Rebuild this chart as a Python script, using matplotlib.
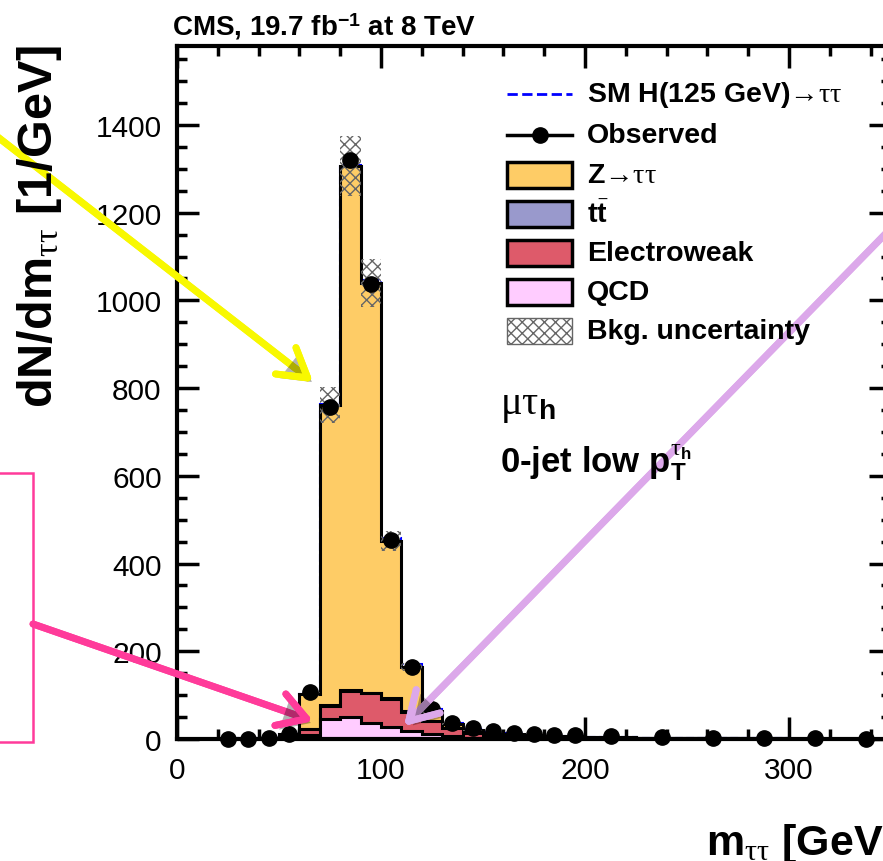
import numpy as np
import matplotlib
matplotlib.use("Agg")
import matplotlib.pyplot as plt
import matplotlib.patheffects as pe
from matplotlib.patches import Rectangle
from matplotlib.lines import Line2D
from matplotlib.ticker import MultipleLocator

plt.rcParams['font.family'] = ['Liberation Sans', 'DejaVu Sans']
plt.rcParams['mathtext.fontset'] = 'custom'
plt.rcParams['mathtext.rm'] = 'Liberation Serif'
plt.rcParams['mathtext.it'] = 'Liberation Serif:italic'
plt.rcParams['mathtext.bf'] = 'Liberation Sans:bold'
plt.rcParams['mathtext.sf'] = 'Liberation Sans'
plt.rcParams['hatch.linewidth'] = 1.0

# bin edges m_tautau [GeV]
edges = [0, 10, 20, 30, 40, 50, 60, 70, 80, 90, 100, 110, 120, 130, 140, 150,
         160, 170, 180, 190, 200, 225, 250, 275, 300, 325, 350]

# dN/dm per bin
qcd = [0, 0, 0, 0.5, 1, 2, 8, 46, 50, 36, 27, 19, 11, 6, 3, 2, 1.5, 1, 1, 0.8,
       0.5, 0.3, 0.2, 0.1, 0.1, 0.05]
ewk = [0, 0, 0.3, 0.5, 1, 3, 14, 30, 60, 68, 65, 43, 29, 18, 11, 8, 6.5, 5, 4, 3.2,
       2.5, 1.7, 1.3, 0.9, 0.6, 0.45]
ttbar = [0, 0, 0, 0, 0, 0.1, 0.3, 0.5, 0.8, 1, 1.2, 1.3, 1.4, 1.4, 1.3, 1.2, 1.1, 1,
         0.9, 0.8, 0.7, 0.5, 0.4, 0.3, 0.2, 0.15]
ztt = [0, 0, 0.2, 0.5, 1, 6, 80, 685, 1195, 935, 358, 100, 22, 8, 5, 3.5, 2.5, 2,
       1.5, 1.2, 0.8, 0.5, 0.3, 0.2, 0.1, 0.1]
higgs = [0, 0, 0, 0, 0, 0.2, 1, 2.5, 4, 6, 7, 7, 6, 4, 2.5, 1.5, 1, 0.6, 0.4, 0.3,
         0.2, 0.1, 0.05, 0, 0, 0]
bkg_unc = [0, 0, 0, 0.1, 0.2, 0.6, 5, 40, 68, 54, 23, 9, 4, 2, 1, 0.8, 0.6, 0.5,
           0.4, 0.3, 0.2, 0.15, 0.1, 0.08, 0.05, 0.04]
observed = [0, 0, 0.5, 1, 2, 12, 107, 757, 1320, 1038, 453, 164, 68, 37, 25, 18,
            14, 12, 10, 8, 6, 4, 3, 2, 1.5, 1]

W, H = 883, 862


def fx(x):
    return x / W


def fy(y):
    return 1 - y / H


fig = plt.figure(figsize=(W / 100, H / 100), dpi=100)
ax = fig.add_axes([fx(177), fy(740), (891 - 177) / W, (740 - 47) / H])

edges = np.array(edges, dtype=float)
s_qcd = np.array(qcd)
s_ewk = s_qcd + np.array(ewk)
s_tt = s_ewk + np.array(ttbar)
s_tot = s_tt + np.array(ztt)
unc = np.array(bkg_unc)

col_z = '#FECC66'
col_tt = '#9999CC'
col_ewk = '#DE5A6A'
col_qcd = '#FFCCFF'
col_hatch = '#666666'
lw_h = 2.2

ax.stairs(s_tot + np.array(higgs), edges, color='blue', ls='--', lw=1.5, zorder=1.5)
ax.stairs(s_tot, edges, fill=True, facecolor=col_z, edgecolor='black', lw=lw_h, zorder=2)
ax.stairs(s_tt, edges, fill=True, facecolor=col_tt, edgecolor='black', lw=lw_h, zorder=2.1)
ax.stairs(s_ewk, edges, fill=True, facecolor=col_ewk, edgecolor='black', lw=lw_h, zorder=2.2)
ax.stairs(s_qcd, edges, fill=True, facecolor=col_qcd, edgecolor='black', lw=lw_h, zorder=2.3)
ax.stairs(s_tot + unc, edges, baseline=s_tot - unc, fill=True, facecolor='none',
          edgecolor=col_hatch, hatch='xxx', lw=0, zorder=3)

centers = (edges[:-1] + edges[1:]) / 2
obs = np.array(observed)
m = obs > 0
ax.plot(centers[m], obs[m], 'o', color='black', ms=11, zorder=6, clip_on=False)

ax.set_xlim(0, 350)
ax.set_ylim(0, 1580)
ax.set_xticks([0, 100, 200, 300])
ax.set_yticks(np.arange(0, 1401, 200))
ax.xaxis.set_minor_locator(MultipleLocator(20))
ax.yaxis.set_minor_locator(MultipleLocator(50))
ax.tick_params(which='both', direction='in', top=True, right=True, width=2.5,
               labelsize=21.5)
ax.tick_params(which='major', length=16)
ax.tick_params(which='minor', length=7.5)
ax.tick_params(axis='y', pad=11)
ax.tick_params(axis='x', pad=12)
for sp in ax.spines.values():
    sp.set_linewidth(3)
    sp.set_zorder(10)

# titles
fig.text(fx(172), fy(36), r'CMS, 19.7 fb$^{\mathbf{-1}}$ at 8 TeV', fontsize=20,
         fontweight='bold', va='baseline', ha='left')
fig.text(fx(40), fy(45), r'dN/dm$_{\mathrm{\tau\tau}}$ [1/GeV]', fontsize=35,
         fontweight='bold', rotation=90, ha='center', va='top')
fig.text(fx(896), fy(855), r'm$_{\mathrm{\tau\tau}}$ [GeV]', fontsize=31,
         fontweight='bold', ha='right', va='baseline')

fig.text(fx(500), fy(414), r'$\mathrm{\mu\tau}_{\mathbf{h}}$', fontsize=29,
         va='baseline')
fig.text(fx(500), fy(473), r'0-jet low $\mathbf{p}_{\mathbf{T}}^{\mathrm{\tau}_{\mathbf{h}}}$',
         fontsize=25, fontweight='bold', va='baseline')

# legend drawn by hand
rows = [95, 136, 176, 215, 254, 293, 332]
labels = [r'SM H(125 GeV)$\mathrm{→\tau\tau}$', 'Observed',
          r'Z$\mathrm{→\tau\tau}$', r't$\bar{\mathbf{t}}$', 'Electroweak',
          'QCD', 'Bkg. uncertainty']
x0, x1 = 507, 572
for r, lab in zip(rows, labels):
    fig.text(fx(587), fy(r), lab, fontsize=20.5, fontweight='bold', va='center')
fig.add_artist(Line2D([fx(x0), fx(x1)], [fy(rows[0])] * 2, color='blue', ls='--',
                      lw=2, transform=fig.transFigure))
fig.add_artist(Line2D([fx(x0), fx(x1)], [fy(rows[1])] * 2, color='black', lw=2.5,
                      transform=fig.transFigure))
fig.add_artist(Line2D([fx((x0 + x1) / 2)], [fy(rows[1])], color='black', marker='o',
                      ms=11, transform=fig.transFigure))
for r, c in zip(rows[2:6], [col_z, col_tt, col_ewk, col_qcd]):
    fig.add_artist(Rectangle((fx(x0), fy(r + 13)), (x1 - x0) / W, 26 / H,
                             facecolor=c, edgecolor='black', lw=2.5,
                             transform=fig.transFigure))
fig.add_artist(Rectangle((fx(x0), fy(rows[6] + 13)), (x1 - x0) / W, 26 / H,
                         facecolor='white', edgecolor=col_hatch, lw=1,
                         hatch='xxx', transform=fig.transFigure))

# annotation arrows and box
shadow = [pe.withSimplePatchShadow(offset=(3, -3), shadow_rgbFace='k', alpha=0.3),
          pe.Normal()]


def arrow(start, tip, color):
    ax.annotate('', xy=(tip[0], H - tip[1]), xycoords='figure pixels',
                xytext=(start[0], H - start[1]), textcoords='figure pixels',
                arrowprops=dict(arrowstyle='->,head_length=1.0,head_width=0.6',
                                color=color, lw=5, mutation_scale=20,
                                shrinkA=0, shrinkB=0, path_effects=shadow),
                zorder=20)


arrow((-10, 132), (313, 383), '#F8F800')
arrow((33, 625), (313, 722), '#FF3B9A')
arrow((900, 220), (404, 727), '#DCA8EA')

fig.add_artist(Rectangle((fx(-10), fy(743)), 43 / W, (743 - 474) / H, fill=False,
                         edgecolor='#FF3B9A', lw=1.8, transform=fig.transFigure))

fig.savefig('out.png', dpi=100)
